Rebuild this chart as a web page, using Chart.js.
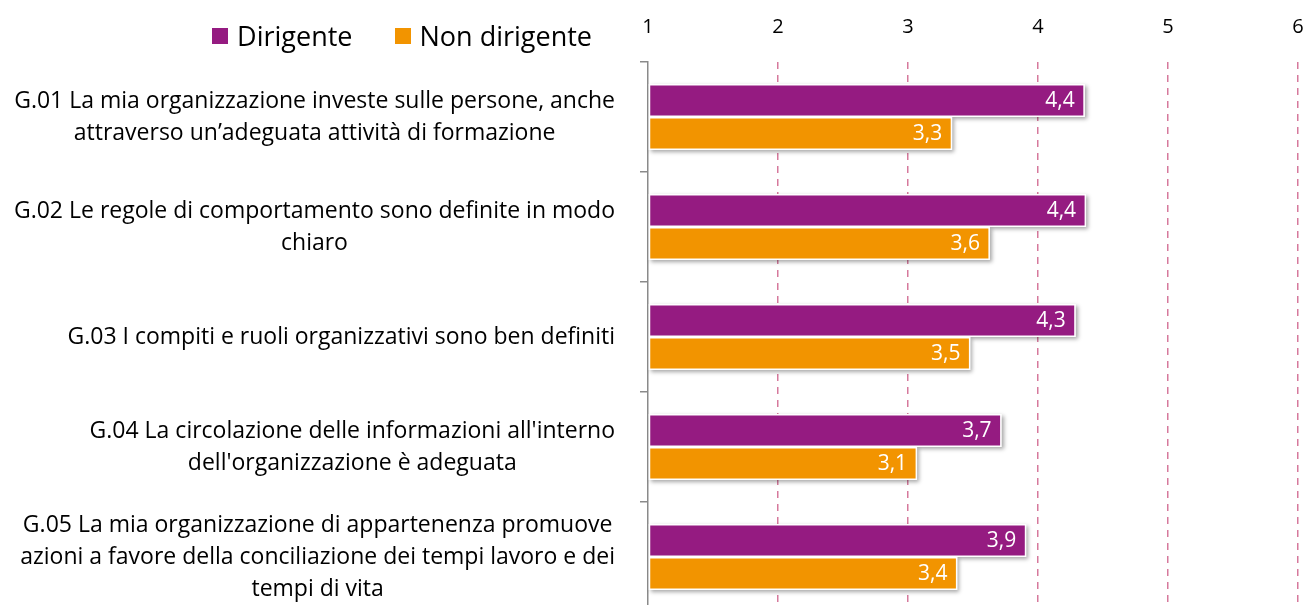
<!DOCTYPE html>
<html lang="it">
<head>
  <meta charset="UTF-8" />
  <title>Dirigente / Non dirigente</title>
  <script src="https://cdn.jsdelivr.net/npm/chart.js"></script>
  <style>
    html, body {margin:0;padding:0;background:#fff;overflow:hidden;}
    .wrap {position:relative;width:1306px;height:605px;overflow:hidden;}
    #legend {position:absolute;right:714px;top:17px;display:flex;gap:42px;font-family:"Open Sans", sans-serif;font-size:27px;line-height:38px;color:#000;white-space:nowrap;}
    #legend span.item {display:flex;align-items:center;}
    #legend i {display:inline-block;width:16px;height:16px;margin-right:9px;}
    canvas {position:absolute;left:0;top:0;}
  </style>
</head>
<body>
<div class="wrap">
  <canvas id="chart" width="1306" height="616"></canvas>
  <div id="legend"></div>
</div>
<script>
// --------- Data ---------
const categories = [
  ['G.01 La mia organizzazione investe sulle persone, anche', 'attraverso un\u2019adeguata attività di formazione'],
  ['G.02 Le regole di comportamento sono definite in modo', 'chiaro'],
  ['G.03 I compiti e ruoli organizzativi sono ben definiti'],
  ['G.04 La circolazione delle informazioni all\'interno', 'dell\'organizzazione è adeguata'],
  ['G.05 La mia organizzazione di appartenenza promuove', 'azioni a favore della conciliazione dei tempi lavoro e dei', 'tempi di vita']
];
const seriesNames = ['Dirigente', 'Non dirigente'];
const dirigente = [4.36, 4.37, 4.29, 3.72, 3.91];
const nonDirigente = [3.34, 3.63, 3.48, 3.07, 3.38];
const seriesColors = ['#951B81', '#F29400'];
const xTicks = [1, 2, 3, 4, 5, 6];

const FONT = '"Open Sans", sans-serif';

// html legend
const legendDiv = document.getElementById('legend');
seriesNames.forEach((n, i) => {
  const s = document.createElement('span'); s.className = 'item';
  s.innerHTML = `<i style="background:${seriesColors[i]}"></i>${n}`;
  legendDiv.appendChild(s);
});

// --------- Plugins ---------
const barShadow = {
  id: 'barShadow',
  beforeDatasetsDraw(chart) {
    const ctx = chart.ctx;
    ctx.save();
    ctx.shadowColor = 'rgba(0,0,0,0.35)';
    ctx.shadowBlur = 4;
    ctx.shadowOffsetX = 2;
    ctx.shadowOffsetY = 2;
    ctx.fillStyle = '#fff';
    chart.data.datasets.forEach((ds, di) => {
      chart.getDatasetMeta(di).data.forEach(el => {
        const p = el.getProps(['x', 'y', 'base', 'height'], true);
        ctx.fillRect(p.base, p.y - p.height / 2, p.x - p.base, p.height);
      });
    });
    ctx.restore();
  },
  afterDatasetsDraw(chart) {
    const ctx = chart.ctx;
    ctx.save();
    ctx.fillStyle = '#fff';
    ctx.font = '21px ' + FONT;
    ctx.textAlign = 'right';
    ctx.textBaseline = 'middle';
    chart.data.datasets.forEach((ds, di) => {
      chart.getDatasetMeta(di).data.forEach((el, i) => {
        const txt = ds.data[i].toFixed(1).replace('.', ',');
        ctx.fillText(txt, el.x - 10, el.y + 1);
      });
    });
    ctx.restore();
  }
};

const blockLabels = {
  id: 'blockLabels',
  afterDraw(chart) {
    const ctx = chart.ctx;
    const y = chart.scales.y;
    const right = 615, lh = 32;
    ctx.save();
    ctx.fillStyle = '#000';
    ctx.font = '23px ' + FONT;
    ctx.textBaseline = 'middle';
    ctx.textAlign = 'center';
    categories.forEach((lines, i) => {
      const w = Math.max(...lines.map(l => ctx.measureText(l).width));
      const cx = right - w / 2;
      const cy = y.getPixelForValue(i);
      lines.forEach((l, k) => {
        ctx.fillText(l, cx, cy + (k - (lines.length - 1) / 2) * lh);
      });
    });
    ctx.restore();
  }
};

// --------- Chart ---------
new Chart(document.getElementById('chart'), {
  type: 'bar',
  data: {
    labels: categories,
    datasets: [
      {label: seriesNames[0], data: dirigente, backgroundColor: seriesColors[0]},
      {label: seriesNames[1], data: nonDirigente, backgroundColor: seriesColors[1]}
    ]
  },
  options: {
    indexAxis: 'y',
    responsive: false,
    animation: false,
    layout: {padding: {top: 0, right: 8, bottom: 4, left: 0}},
    datasets: {
      bar: {base: 1, borderColor: '#fff', borderWidth: 1.5, borderSkipped: false,
            categoryPercentage: 0.6, barPercentage: 1}
    },
    plugins: {legend: {display: false}, tooltip: {enabled: false}},
    scales: {
      x: {
        position: 'top', min: 1, max: 6,
        afterBuildTicks: s => { s.ticks = xTicks.map(v => ({value: v})); },
        afterFit: s => { s.height = 62; s.paddingLeft = 0; s.paddingRight = 0; },
        ticks: {color: '#000', font: {family: FONT, size: 20}, padding: 23},
        grid: {
          drawTicks: false,
          color: c => (c.tick && c.tick.value === 1) ? 'rgba(0,0,0,0)' : '#D6799C',
          lineWidth: 1.5
        },
        border: {display: false, dash: [7, 6]}
      },
      y: {
        afterFit: s => { s.width = 648; },
        ticks: {display: false},
        grid: {drawOnChartArea: false, color: '#8a8a8a', tickLength: 8, lineWidth: 1.5},
        border: {display: true, color: '#8a8a8a', width: 1.5}
      }
    }
  },
  plugins: [barShadow, blockLabels]
});
</script>
</body>
</html>
